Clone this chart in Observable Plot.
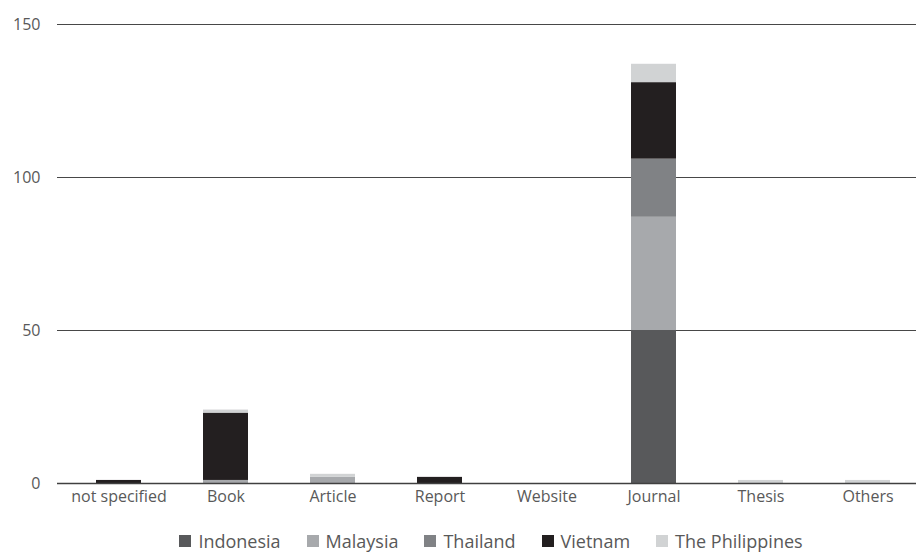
<!DOCTYPE html>
<html>
<head>
<meta charset="utf-8">
<script src="https://cdn.jsdelivr.net/npm/d3@7"></script>
<script src="https://cdn.jsdelivr.net/npm/@observablehq/plot@0.6"></script>
<style>
  body { margin: 0; background: #fff; font-family: "Open Sans", sans-serif; }
  #chart { width: 916px; }
  #chart svg { display: block; }
  .legend { display: flex; justify-content: center; align-items: center; gap: 26px; font-size: 18px; line-height: 24px; color: #595959; margin-top: 9px; margin-left: 66px; }
  .legend span.item { display: flex; align-items: center; }
  .legend span.sw { display: inline-block; width: 12px; height: 12px; margin-right: 7px; }
</style>
</head>
<body>
<div id="chart"></div>
<script>
const categories = ["not specified", "Book", "Article", "Report", "Website", "Journal", "Thesis", "Others"];
const countries = ["Indonesia", "Malaysia", "Thailand", "Vietnam", "The Philippines"];
const colors = ["#58595b", "#a7a9ac", "#808285", "#231f20", "#d1d3d4"];
const indonesia   = [0, 0, 0, 0, 0, 50, 0, 0];
const malaysia    = [0, 1, 2, 0, 0, 37, 0, 0];
const thailand    = [0, 0, 0, 0, 0, 19, 0, 0];
const vietnam     = [1, 22, 0, 2, 0, 25, 0, 0];
const philippines = [0, 1, 1, 0, 0, 6, 1, 1];
const yTicks = [0, 50, 100, 150];

const series = [indonesia, malaysia, thailand, vietnam, philippines];
const data = [];
countries.forEach((c, i) => categories.forEach((cat, j) => data.push({country: c, category: cat, value: series[i][j]})));

const plot = Plot.plot({
  width: 916,
  height: 520,
  marginTop: 24,
  marginBottom: 37,
  marginLeft: 57,
  marginRight: 0,
  style: {fontFamily: "'Open Sans', sans-serif", fontSize: "16px", color: "#595959", background: "#fff"},
  x: {domain: categories, label: null, paddingInner: 0.581, paddingOuter: 0.2855, align: 0.6, tickSize: 0, tickPadding: 7},
  y: {domain: [0, 150], ticks: yTicks, label: null, tickSize: 0, tickPadding: 17},
  color: {domain: countries, range: colors},
  marks: [
    Plot.ruleY(yTicks.filter(d => d > 0), {stroke: "#333", strokeWidth: 1, strokeOpacity: 0.9}),
    Plot.barY(data, {x: "category", y: "value", fill: "country"}),
    Plot.ruleY([0], {stroke: "#404040", strokeWidth: 1.5})
  ]
});
document.getElementById("chart").appendChild(plot);

const legend = document.createElement("div");
legend.className = "legend";
countries.forEach((c, i) => {
  const item = document.createElement("span");
  item.className = "item";
  const sw = document.createElement("span");
  sw.className = "sw";
  sw.style.background = colors[i];
  item.appendChild(sw);
  item.appendChild(document.createTextNode(c));
  legend.appendChild(item);
});
document.getElementById("chart").appendChild(legend);
</script>
</body>
</html>
